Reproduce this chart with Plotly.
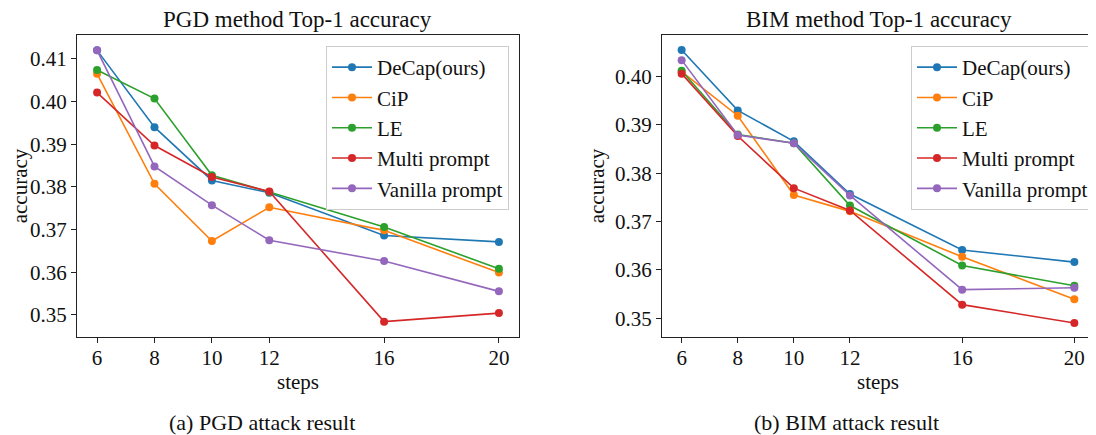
import plotly.graph_objects as go
from plotly.subplots import make_subplots

steps = [6, 8, 10, 12, 16, 20]
series_names = ["DeCap(ours)", "CiP", "LE", "Multi prompt", "Vanilla prompt"]
colors = ["#1f77b4", "#ff7f0e", "#2ca02c", "#d62728", "#9467bd"]

pgd_decap = [0.4120, 0.3940, 0.3815, 0.3786, 0.3686, 0.3671]
pgd_cip = [0.4065, 0.3807, 0.3673, 0.3752, 0.3698, 0.3599]
pgd_le = [0.4074, 0.4007, 0.3827, 0.3788, 0.3706, 0.3608]
pgd_multi = [0.4021, 0.3897, 0.3823, 0.3789, 0.3484, 0.3504]
pgd_vanilla = [0.4120, 0.3848, 0.3757, 0.3675, 0.3626, 0.3555]

bim_decap = [0.4055, 0.3930, 0.3866, 0.3757, 0.3641, 0.3616]
bim_cip = [0.4010, 0.3919, 0.3755, 0.3721, 0.3627, 0.3539]
bim_le = [0.4012, 0.3880, 0.3862, 0.3733, 0.3609, 0.3567]
bim_multi = [0.4006, 0.3877, 0.3769, 0.3723, 0.3528, 0.3490]
bim_vanilla = [0.4034, 0.3879, 0.3862, 0.3754, 0.3559, 0.3563]

pgd = [pgd_decap, pgd_cip, pgd_le, pgd_multi, pgd_vanilla]
bim = [bim_decap, bim_cip, bim_le, bim_multi, bim_vanilla]

FONT = "Liberation Serif"
OFF = 8  # page body margin
W, H = 1096 - OFF, 435 - OFF


def px(x):
    return (x - OFF) / W


def py(y):
    return 1 - (y - OFF) / H


fig = make_subplots(rows=1, cols=2)

for i, name in enumerate(series_names):
    fig.add_trace(go.Scatter(x=steps, y=pgd[i], mode="lines+markers", name=name,
                             line=dict(color=colors[i], width=1.6),
                             marker=dict(color=colors[i], size=8),
                             legend="legend"), row=1, col=1)
for i, name in enumerate(series_names):
    fig.add_trace(go.Scatter(x=steps, y=bim[i], mode="lines+markers", name=name,
                             line=dict(color=colors[i], width=1.6),
                             marker=dict(color=colors[i], size=8),
                             legend="legend2"), row=1, col=2)

axis_common = dict(showline=True, linecolor="#222", linewidth=1, mirror=True,
                   ticks="outside", ticklen=5, tickcolor="#222", showgrid=False,
                   zeroline=False, automargin=False,
                   tickfont=dict(family=FONT, size=21, color="#111"))
title_font = dict(family=FONT, size=21, color="#111")

ytop, ybot = py(35), py(337)
fig.update_xaxes(axis_common)
fig.update_yaxes(axis_common)
fig.update_xaxes(ticklabelstandoff=-3)
fig.update_layout(
    xaxis=dict(domain=[px(77), px(519)], range=[5.3, 20.7], tickvals=steps,
               title=dict(text="steps", font=title_font, standoff=0)),
    xaxis2=dict(domain=[px(662), px(1094)], range=[5.3, 20.7], tickvals=steps,
                title=dict(text="steps", font=title_font, standoff=0)),
    yaxis=dict(domain=[ybot, ytop], range=[0.3448, 0.4156], tickvals=[0.35, 0.36, 0.37, 0.38, 0.39, 0.40, 0.41],
               tickformat=".2f",
               title=dict(text="accuracy", font=title_font, standoff=7)),
    yaxis2=dict(domain=[ybot, ytop], range=[0.3461, 0.4086], tickvals=[0.35, 0.36, 0.37, 0.38, 0.39, 0.40],
                tickformat=".2f",
                title=dict(text="accuracy", font=title_font, standoff=4)),
)

legend_common = dict(font=dict(family=FONT, size=21, color="#111"), bgcolor="white",
                     bordercolor="#cccccc", borderwidth=1, xanchor="right", yanchor="top",
                     itemwidth=40, tracegroupgap=0, entrywidth=150, entrywidthmode="pixels")
fig.update_layout(
    legend=dict(legend_common, x=px(509), y=py(46)),
    legend2=dict(legend_common, x=px(1094), y=py(46)),
)

annotations = [
    dict(text="PGD method Top-1 accuracy", x=px(297), y=py(19), size=23),
    dict(text="BIM method Top-1 accuracy", x=px(879), y=py(19), size=23),
    dict(text="(a) PGD attack result", x=px(262), y=py(422), size=22),
    dict(text="(b) BIM attack result", x=px(846), y=py(422), size=22),
]
for a in annotations:
    fig.add_annotation(xref="paper", yref="paper", showarrow=False, xanchor="center", yanchor="middle",
                       text=a["text"], x=a["x"], y=a["y"],
                       font=dict(family=FONT, size=a["size"], color="#111"))

fig.update_layout(width=W, height=H, margin=dict(l=0, r=0, t=0, b=0, autoexpand=False),
                  plot_bgcolor="white", paper_bgcolor="white", showlegend=True)

fig.write_html("out.html")
